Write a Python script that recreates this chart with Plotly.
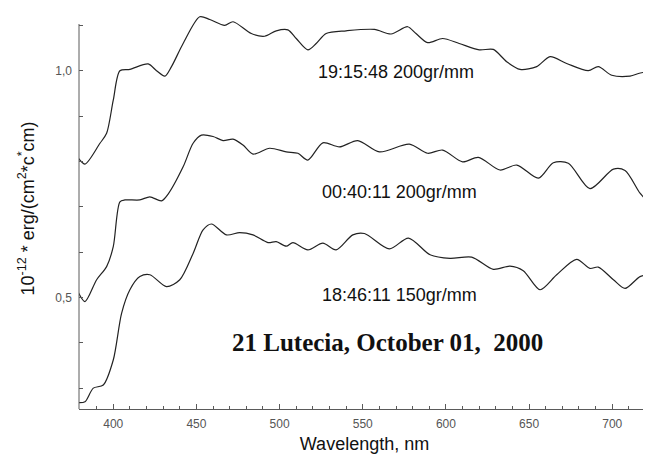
import plotly.graph_objects as go

# ---- data ----
wl_1915 = [379, 383, 392, 396, 400, 404, 410, 421, 426, 431, 435, 442, 452, 458, 467, 472,
           483, 491, 498, 505, 510, 517, 522, 528, 540, 557, 567, 577, 582, 589, 598, 608,
           620, 628.5, 636.5, 644.6, 654.6, 662.6, 672.6, 685.6, 691.6, 699.7, 710.7, 718.7, 723]
flux_1915 = [0.807, 0.794, 0.84, 0.862, 0.935, 1.0, 1.003, 1.015, 1.0, 0.988, 1.009, 1.06, 1.119, 1.113, 1.10, 1.108,
             1.082, 1.076, 1.088, 1.09, 1.071, 1.046, 1.06, 1.082, 1.088, 1.091, 1.081, 1.097, 1.082, 1.062, 1.071, 1.06,
             1.046, 1.047, 1.02, 1.003, 1.009, 1.031, 1.016, 1.0, 1.009, 0.99, 0.988, 0.996, 0.985]

wl_0040 = [379, 383, 390, 396, 400, 404, 407, 416, 422, 429, 433, 442, 448, 453, 460, 466, 472,
           478, 484, 494, 504, 511, 517, 526, 536, 547, 560, 578, 589, 598, 610, 619.5,
           632.5, 642.6, 655.6, 664.6, 673.6, 686.6, 700.7, 707.7, 716.7, 723]
flux_0040 = [0.511, 0.491, 0.539, 0.568, 0.612, 0.711, 0.715, 0.715, 0.722, 0.713, 0.728, 0.788, 0.84, 0.858, 0.855, 0.846, 0.849,
             0.836, 0.816, 0.829, 0.821, 0.818, 0.803, 0.841, 0.832, 0.846, 0.821, 0.838, 0.818, 0.825, 0.799, 0.809,
             0.781, 0.792, 0.763, 0.797, 0.796, 0.74, 0.783, 0.78, 0.73, 0.705]

wl_1846 = [379, 383, 388, 394, 400, 405, 410, 416, 422, 432, 440, 448, 454, 459, 468, 476, 484,
           493, 498, 504, 508, 517, 526, 534, 544, 551, 566, 577.5, 590.5, 602.5, 615.5, 628.5,
           638.5, 646.5, 656.6, 666.6, 678.6, 686.6, 691.6, 700.7, 707.7, 716.7, 723]
flux_1846 = [0.268, 0.270, 0.30, 0.307, 0.362, 0.465, 0.517, 0.546, 0.55, 0.524, 0.539, 0.597, 0.649, 0.662, 0.638, 0.643, 0.638,
             0.621, 0.623, 0.613, 0.621, 0.605, 0.62, 0.605, 0.638, 0.641, 0.607, 0.631, 0.594, 0.586, 0.589, 0.562,
             0.569, 0.559, 0.517, 0.55, 0.584, 0.564, 0.567, 0.539, 0.52, 0.546, 0.55]

series_labels = ["19:15:48 200gr/mm", "00:40:11 200gr/mm", "18:46:11 150gr/mm"]
title_text = "21 Lutecia, October 01,&nbsp; 2000"
x_tick_vals = [400, 450, 500, 550, 600, 650, 700]
y_tick_vals = [0.5, 1.0]
y_tick_text = ["0,5", "1,0"]
y_minor_vals = [0.3, 0.4, 0.6, 0.7, 0.8, 0.9, 1.1]
y_axis_span = [0.254, 1.103]

fig = go.Figure()
for wl, fl in [(wl_1915, flux_1915), (wl_0040, flux_0040), (wl_1846, flux_1846)]:
    fig.add_trace(go.Scatter(x=wl, y=fl, mode="lines",
                             line=dict(color="#222222", width=1.2, shape="spline", smoothing=0.8),
                             showlegend=False, hoverinfo="skip"))

label_pos = [(570, 0.997), (572, 0.733), (572, 0.506)]
for (lx, ly), txt in zip(label_pos, series_labels):
    fig.add_annotation(x=lx, y=ly, text=txt, showarrow=False,
                       font=dict(family="Arial, Liberation Sans, sans-serif", size=18, color="#111"))
fig.add_annotation(x=565, y=0.40, text="<b>" + title_text + "</b>", showarrow=False,
                   font=dict(family="Liberation Serif, Times New Roman, serif", size=25, color="#111"))

axis_col = "#5a5a5a"
# y axis line only up to the top tick (curve overshoots above it)
fig.add_shape(type="line", xref="paper", yref="y", x0=0, x1=0,
              y0=y_axis_span[0], y1=y_axis_span[1], line=dict(color=axis_col, width=1))

fig.update_layout(
    width=643, height=451,
    margin=dict(l=71, r=1, t=0, b=50),
    paper_bgcolor="white", plot_bgcolor="white",
    font=dict(family="Arial, Liberation Sans, sans-serif"),
    xaxis=dict(range=[379.4, 722.7], showgrid=False, zeroline=False,
               showline=True, linecolor=axis_col, linewidth=1,
               tickmode="array", tickvals=x_tick_vals,
               ticks="inside", ticklen=5, tickcolor=axis_col,
               tickfont=dict(size=12, color="#555"), ticklabelstandoff=4,
               minor=dict(dtick=10, tick0=0, ticks="inside", ticklen=3, tickcolor=axis_col),
               title=dict(text="Wavelength, nm", font=dict(size=18, color="#111"), standoff=6)),
    yaxis=dict(range=[0.254, 1.1383], showgrid=False, zeroline=False,
               showline=False,
               tickmode="array", tickvals=y_tick_vals, ticktext=y_tick_text,
               ticks="inside", ticklen=4, tickcolor=axis_col,
               tickfont=dict(size=12, color="#555"), ticklabelstandoff=6,
               minor=dict(tickvals=y_minor_vals, ticks="inside", ticklen=4, tickcolor=axis_col),
               title=dict(text="10<sup>-12</sup> * erg/(cm<sup>2</sup>*c<sup>*</sup>cm)",
                          font=dict(size=18, color="#111"), standoff=16)),
)

fig.write_html("out.html")
